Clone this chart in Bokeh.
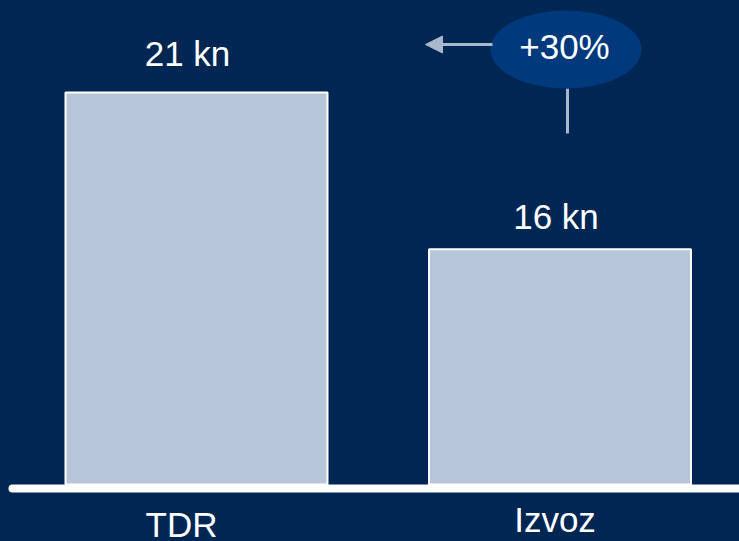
from bokeh.plotting import figure
from bokeh.models import Arrow, NormalHead, ColumnDataSource
from bokeh.core.properties import value
from bokeh.embed import file_html
from bokeh.resources import INLINE

# ---- data ----
categories = ["TDR", "Izvoz"]
values_kn = [21, 16]                       # label values
bar_heights = [21.0, 12.6]                 # drawn heights (not to scale)
value_labels = ["21 kn", "16 kn"]
change_label = "+30%"

BG = "#002654"
BAR = "#B7C5D8"
OVAL = "#003A7D"
ARROWC = "#A9B8CD"
FONT = "Liberation Sans"

W, H = 739, 541
# pixel <-> data mapping
PX_PER_X = 363.5
X0_PX = 196.0
PX_PER_Y = 392.0 / 21.0
Y0_PX = 484.0
TXT_CORR = 13  # svg alphabetic baseline correction (px)

def X(px):
    return (px - X0_PX) / PX_PER_X

def Y(py):
    return (Y0_PX - py) / PX_PER_Y

def YT(py):
    return Y(py - TXT_CORR)

xs = list(range(len(categories)))

p = figure(width=W, height=H, output_backend="svg", toolbar_location=None,
           x_range=(X(0), X(W)), y_range=(Y(H), Y(0)),
           min_border=0, background_fill_color=BG, border_fill_color=BG,
           outline_line_color=None)
p.axis.visible = False
p.grid.visible = False

src = ColumnDataSource(dict(x=xs, top=bar_heights, cat=categories, lab=value_labels,
                            yoff=[-26 - TXT_CORR, -20 - TXT_CORR],
                            xoff=[-9, -4]))

p.vbar(x="x", top="top", bottom=0, width=262 / PX_PER_X, source=src,
       fill_color=BAR, line_color="white", line_width=2)

# baseline
p.segment(x0=[X(12)], y0=[Y(488)], x1=[X(745)], y1=[Y(488)],
          line_color="white", line_width=8, line_cap="round")

# value labels above bars
p.text(x="x", y="top", text="lab", source=src, text_font=value(FONT),
       text_font_size="35px", text_color="white", text_align="center",
       text_baseline="alphabetic", y_offset="yoff", x_offset="xoff")

# category labels
p.text(x=[0], y=[YT(537)], text=[categories[0]], text_font=value(FONT),
       text_font_size="35px", text_color="white", text_align="center",
       text_baseline="alphabetic", x_offset=-15)
p.text(x=[1], y=[YT(532)], text=[categories[1]], text_font=value(FONT),
       text_font_size="35px", text_color="white", text_align="center",
       text_baseline="alphabetic", x_offset=-5)

# arrow & connector
p.segment(x0=[X(567)], y0=[Y(88)], x1=[X(567)], y1=[Y(133)],
          line_color=ARROWC, line_width=3)
p.add_layout(Arrow(x_start=X(492), y_start=Y(44), x_end=X(425), y_end=Y(44),
                   line_color=ARROWC, line_width=3,
                   end=NormalHead(size=17, fill_color=ARROWC, line_color=ARROWC)))

# oval with change label
p.ellipse(x=[X(565.5)], y=[Y(49)], width=151 / PX_PER_X, height=78 / PX_PER_Y,
          fill_color=OVAL, line_color=None)
p.text(x=[X(564)], y=[YT(59)], text=[change_label], text_font=value(FONT),
       text_font_size="35px", text_color="white", text_align="center",
       text_baseline="alphabetic")

html = file_html(p, INLINE)
html = html.replace("<head>", '<head><style>html,body{margin:0;padding:0;background:%s;overflow:hidden}</style>' % BG, 1)
open("out.html", "w").write(html)
